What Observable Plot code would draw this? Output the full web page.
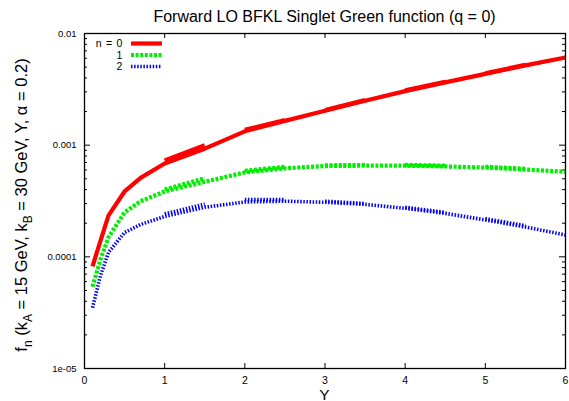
<!DOCTYPE html>
<html><head><meta charset="utf-8">
<script src="https://cdn.jsdelivr.net/npm/d3@7"></script>
<script src="https://cdn.jsdelivr.net/npm/@observablehq/plot@0.6"></script>
<style>body{margin:0;background:#fff}svg{display:block}</style>
</head><body><div id="chart"></div>
<script>
// ---- data ----
const Ygrid = [0.1, 0.2, 0.3, 0.5, 0.7, 1.0, 1.5, 2.0, 2.5, 3.0, 3.5, 4.0, 4.5, 5.0, 5.5, 6.0];
const f0 = [8.2e-5, 1.4e-4, 2.35e-4, 3.85e-4, 5.1e-4, 6.85e-4, 9.3e-4, 1.33e-3, 1.65e-3, 2.03e-3, 2.5e-3, 3.05e-3, 3.65e-3, 4.35e-3, 5.18e-3, 6.1e-3];
const f1 = [5.4e-5, 9.5e-5, 1.5e-4, 2.5e-4, 3.15e-4, 3.85e-4, 4.7e-4, 5.7e-4, 6.2e-4, 6.5e-4, 6.55e-4, 6.55e-4, 6.45e-4, 6.3e-4, 6.05e-4, 5.78e-4];
const f2 = [3.5e-5, 6.8e-5, 1.1e-4, 1.65e-4, 1.95e-4, 2.3e-4, 2.78e-4, 3.1e-4, 3.15e-4, 3.08e-4, 2.95e-4, 2.72e-4, 2.45e-4, 2.14e-4, 1.85e-4, 1.57e-4];
// overlapping (thicker-looking) pieces of the curves
const segStartY = [1, 2, 3, 4, 5];
const segEndY   = [1.5, 2.5, 3.5, 4.5, 5.5];
const seg0Start = [7.3e-4, 1.37e-3, 2.06e-3, 3.1e-3, 4.4e-3];
const seg0End   = [1.0e-3, 1.68e-3, 2.53e-3, 3.7e-3, 5.25e-3];
const seg1Start = [4.0e-4, 5.9e-4, 6.6e-4, 6.65e-4, 6.4e-4];
const seg1End   = [5.05e-4, 6.4e-4, 6.65e-4, 6.55e-4, 6.15e-4];
const seg2Start = [2.42e-4, 3.25e-4, 3.15e-4, 2.78e-4, 2.2e-4];
const seg2End   = [2.97e-4, 3.25e-4, 3.0e-4, 2.5e-4, 1.9e-4];
const legendLabels = ["n = 0", "1", "2"];
const xTicks = [0, 1, 2, 3, 4, 5, 6];
const xTickLabels = ["0", "1", "2", "3", "4", "5", "6"];
const yTicks = [1e-5, 1e-4, 1e-3, 1e-2];
const yTickLabels = ["1e-05", "0.0001", "0.001", "0.01"];
const title = "Forward LO BFKL Singlet Green function (q = 0)";
const xLabel = "Y";

// ---- styles ----
const styles = [
  {color: "#ff0000", width: 4.2, dash: null},
  {color: "#00ee00", width: 4.2, dash: "3,1.6"},
  {color: "#0000ff", width: 3.6, dash: "1.5,1.6"}
];
const W = 569, H = 401, mL = 84, mR = 4, mT = 33, mB = 33;
const iw = W - mL - mR, ih = H - mT - mB;

const mainSeries = [f0, f1, f2].map(f => Ygrid.map((y, i) => ({Y: y, v: f[i]})));
const segSeries = [[seg0Start, seg0End], [seg1Start, seg1End], [seg2Start, seg2End]].map(([s, e]) =>
  segStartY.flatMap((y0, k) => [{Y: y0, v: s[k], k}, {Y: segEndY[k], v: e[k], k}]));

const minorY = d3.scaleLog().domain([1e-5, 1e-2]).ticks().filter(t => !yTicks.some(m => Math.abs(m - t) / m < 1e-9));

const lineMarks = [];
styles.forEach((s, i) => {
  const opt = {x: "Y", y: "v", stroke: s.color, strokeWidth: s.width, strokeLinejoin: "round", strokeLinecap: "butt"};
  if (s.dash) opt.strokeDasharray = s.dash;
  lineMarks.push(Plot.line(mainSeries[i], opt));
  lineMarks.push(Plot.line(segSeries[i], {...opt, z: "k"}));
});

const chart = Plot.plot({
  width: W, height: H,
  marginLeft: mL, marginRight: mR, marginTop: mT, marginBottom: mB,
  style: {fontFamily: "'Liberation Sans', Arial, sans-serif", background: "white", color: "black"},
  x: {domain: [0, 6]},
  y: {type: "log", domain: [1e-5, 1e-2]},
  marks: [
    Plot.axisX({ticks: xTicks, tickSize: 0, tickPadding: 8, fontSize: 10.5, label: null,
      tickFormat: d => xTickLabels[xTicks.indexOf(d)]}),
    Plot.axisY({ticks: yTicks, tickSize: 0, tickPadding: 8, fontSize: 9.5, label: null,
      tickFormat: d => yTickLabels[yTicks.indexOf(d)]}),
    // inward ticks (gnuplot style)
    Plot.tickX(xTicks, {x: d => d, insetTop: ih - 5, stroke: "black", strokeWidth: 1}),
    Plot.tickX(xTicks, {x: d => d, insetBottom: ih - 5, stroke: "black", strokeWidth: 1}),
    Plot.tickY(yTicks, {y: d => d, insetRight: iw - 6, stroke: "black", strokeWidth: 1}),
    Plot.tickY(yTicks, {y: d => d, insetLeft: iw - 6, stroke: "black", strokeWidth: 1}),
    Plot.tickY(minorY, {y: d => d, insetRight: iw - 3, stroke: "black", strokeWidth: 1}),
    Plot.tickY(minorY, {y: d => d, insetLeft: iw - 3, stroke: "black", strokeWidth: 1}),
    ...lineMarks,
    Plot.frame({stroke: "black", strokeWidth: 1.3})
  ]
});
document.getElementById("chart").appendChild(chart);

const svg = d3.select(chart);
const ff = "'Liberation Sans', Arial, sans-serif";
// title
svg.append("text").attr("x", mL + iw / 2).attr("y", 21.5).attr("text-anchor", "middle")
  .attr("font-family", ff).attr("font-size", 16).attr("fill", "black").text(title);
// x label
svg.append("text").attr("x", mL + iw / 2).attr("y", 399.5).attr("text-anchor", "middle")
  .attr("font-family", ff).attr("font-size", 15.5).attr("fill", "black").text(xLabel);
// y label with subscripts
const yl = svg.append("text").attr("transform", "translate(27,205) rotate(-90)")
  .attr("text-anchor", "middle").attr("font-family", ff).attr("font-size", 16.5).attr("fill", "black");
const parts = [["f", 0], ["n", 1], [" (k", 0], ["A", 1], [" = 15 GeV, k", 0], ["B", 1], [" = 30 GeV, Y, \u03b1 = 0.2)", 0]];
parts.forEach(([t, sub]) => {
  const ts = yl.append("tspan").text(t);
  if (sub) ts.attr("font-size", 12).attr("dy", 5);
  else ts.attr("dy", yl.selectAll("tspan").size() > 1 ? -5 : 0);
});
// legend
const legRows = [43.5, 55, 66.5];
const lg = svg.append("g");
legendLabels.forEach((lab, i) => {
  lg.append("text").attr("x", 123).attr("y", legRows[i]).attr("dy", "0.35em").attr("text-anchor", "end")
    .attr("font-family", ff).attr("font-size", 10.5).attr("letter-spacing", 0.7).attr("fill", "black").text(lab);
  const ln = lg.append("line").attr("x1", 131).attr("x2", 162).attr("y1", legRows[i]).attr("y2", legRows[i])
    .attr("stroke", styles[i].color).attr("stroke-width", styles[i].width);
  if (styles[i].dash) ln.attr("stroke-dasharray", styles[i].dash);
});
</script>
</body></html>
